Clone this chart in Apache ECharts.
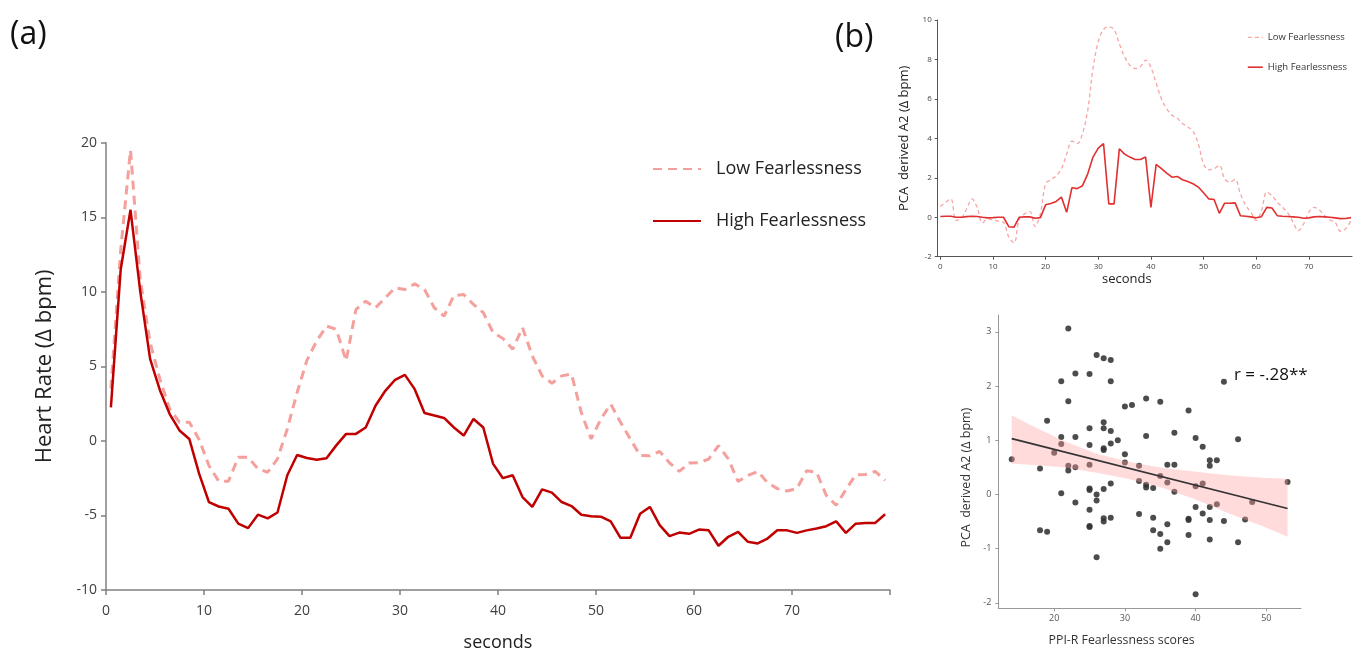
<!DOCTYPE html>
<html><head><meta charset="utf-8">
<script src="https://cdn.jsdelivr.net/npm/echarts@6/dist/echarts.min.js"></script>
<style>html,body{margin:0;padding:0;background:#fff}#c{width:1358px;height:657px}</style>
</head><body><div id="c"></div>
<script>
// ---- Panel (a): heart rate time course ----
const secondsA = [0.5,1.5,2.5,3.5,4.5,5.5,6.5,7.5,8.5,9.5,10.5,11.5,12.5,13.5,14.5,15.5,16.5,17.5,18.5,19.5,20.5,21.5,22.5,23.5,24.5,25.5,26.5,27.5,28.5,29.5,30.5,31.5,32.5,33.5,34.5,35.5,36.5,37.5,38.5,39.5,40.5,41.5,42.5,43.5,44.5,45.5,46.5,47.5,48.5,49.5,50.5,51.5,52.5,53.5,54.5,55.5,56.5,57.5,58.5,59.5,60.5,61.5,62.5,63.5,64.5,65.5,66.5,67.5,68.5,69.5,70.5,71.5,72.5,73.5,74.5,75.5,76.5,77.5,78.5,79.5];
const hrLow = [3.5,12.8,19.5,10.8,6.6,4.14,2.14,1.25,1.25,0.1,
  -1.65,-2.7,-2.7,-1.1,-1.1,-1.87,-2.1,-1.2,0.8,3.25,
  5.4,6.7,7.7,7.48,5.37,8.8,9.37,8.93,9.6,10.27,
  10.15,10.53,10.15,8.93,8.37,9.75,9.82,9.15,8.6,7.26,
  6.87,6.15,7.6,5.7,4.36,3.87,4.36,4.48,1.9,0.13,
  1.47,2.47,1.25,0.13,-0.98,-1.0,-0.71,-1.47,-2.05,-1.49,
  -1.46,-1.22,-0.31,-1.2,-2.72,-2.32,-2.05,-2.8,-3.2,-3.36,
  -3.2,-2.0,-2.1,-3.65,-4.32,-3.27,-2.27,-2.25,-2.05,-2.65];
const hrHigh = [2.25,11.5,15.5,10.0,5.5,3.4,1.8,0.7,0.13,-2.2,
  -4.1,-4.4,-4.55,-5.55,-5.85,-4.95,-5.2,-4.8,-2.3,-0.95,
  -1.15,-1.27,-1.16,-0.3,0.47,0.47,0.9,2.36,3.36,4.1,
  4.43,3.47,1.87,1.7,1.54,0.9,0.36,1.47,0.9,-1.54,
  -2.5,-2.3,-3.77,-4.43,-3.25,-3.47,-4.1,-4.37,-4.95,-5.05,
  -5.08,-5.4,-6.5,-6.5,-4.88,-4.43,-5.65,-6.39,-6.15,-6.23,
  -5.95,-6.0,-7.03,-6.43,-6.1,-6.77,-6.88,-6.55,-5.99,-6.0,
  -6.17,-6.0,-5.88,-5.72,-5.39,-6.17,-5.55,-5.5,-5.5,-4.92];

// ---- Panel (b) top: PCA derived A2 time course ----
const secondsB = [0,1,2,3,4,5,6,7,8,9,10,11,12,13,14,15,16,17,18,19,20,21,22,23,24,25,26,27,28,29,30,31,32,33,34,35,36,37,38,39,40,41,42,43,44,45,46,47,48,49,50,51,52,53,54,55,56,57,58,59,60,61,62,63,64,65,66,67,68,69,70,71,72,73,74,75,76,77,78];
const pcaLow = [0.54,0.76,0.93,-0.17,-0.03,0.42,0.93,0.5,-0.29,-0.08,
  -0.14,-0.2,-0.25,-1.0,-1.3,-0.08,0.17,0.3,-0.47,0.17,
  1.7,1.9,2.1,2.46,3.2,3.86,3.73,4.24,5.42,7.54,
  8.9,9.53,9.66,9.53,8.8,8.14,7.7,7.54,7.63,7.97,
  7.6,6.8,6.0,5.5,5.17,5.03,4.75,4.58,4.37,3.73,
  2.7,2.4,2.46,2.63,1.95,1.78,1.92,1.19,0.6,0.25,
  -0.17,0.34,1.27,1.1,0.76,0.5,0.22,-0.25,-0.68,-0.34,
  0.25,0.5,0.37,0.08,-0.14,-0.25,-0.71,-0.59,-0.17];
const pcaHigh = [0.04,0.05,0.05,0.0,0.0,0.03,0.05,0.04,0.0,-0.03,
  -0.02,0.0,0.0,-0.48,-0.5,0.0,0.02,0.02,-0.05,-0.02,
  0.63,0.7,0.8,1.02,0.25,1.5,1.45,1.6,2.2,3.05,
  3.5,3.73,0.68,0.68,3.47,3.2,3.05,2.93,2.93,3.05,
  0.5,2.68,2.46,2.24,2.03,2.07,1.9,1.81,1.7,1.53,
  1.24,0.93,0.9,0.2,0.71,0.71,0.73,0.08,0.05,0.02,
  -0.03,0.03,0.5,0.47,0.08,0.05,0.04,0.02,0.0,-0.05,
  -0.03,0.02,0.04,0.02,0.0,-0.03,-0.07,-0.06,-0.02];

// ---- Panel (b) bottom: scatter ----
const ppiScores = [14,18,18,19,19,20,21,21,21,21,22,22,22,22,23,23,23,23,25,25,25,25,25,25,25,25,25,26,26,26,26,27,27,27,27,27,27,27,27,28,28,28,28,28,28,29,30,30,30,31,32,32,32,33,33,33,33,34,34,34,35,35,35,35,36,36,36,36,37,37,37,39,39,39,39,40,40,40,40,41,41,41,42,42,42,42,42,43,43,44,44,46,46,47,48,53];
const pcaA2 = [0.65,0.48,-0.66,1.36,-0.69,0.77,2.09,1.06,0.93,0.02,3.06,1.72,0.53,0.44,2.23,1.06,0.5,-0.15,2.22,1.22,0.91,0.55,0.11,0.08,-0.28,-0.58,-0.6,2.57,0.0,-0.11,-1.16,2.51,1.33,1.22,0.85,0.82,0.1,-0.44,-0.5,2.48,2.09,1.17,0.94,0.2,-0.43,1.0,1.62,0.74,0.59,1.65,0.53,0.25,-0.36,1.77,1.08,0.18,0.13,0.12,-0.43,-0.66,1.71,0.34,-0.73,-1.0,0.55,0.22,-0.55,-0.88,1.14,0.55,0.05,1.55,-0.45,-0.47,-0.75,1.04,0.15,-0.23,-1.84,0.88,0.2,-0.35,0.63,0.53,-0.23,-0.47,-0.83,0.63,-0.18,2.08,-0.49,1.02,-0.88,-0.46,-0.14,0.23];
const fitX = [14, 53];
const fitY = [1.03, -0.26];
const bandX = [14, 16.5, 21.3, 26, 30.7, 35.4, 40.1, 44.9, 49.6, 53];
const bandUpper = [1.46, 1.29, 0.99, 0.75, 0.60, 0.49, 0.42, 0.35, 0.31, 0.29];
const bandLower = [0.57, 0.55, 0.50, 0.40, 0.28, 0.12, -0.10, -0.36, -0.59, -0.78];

// ---- tick labels ----
const ticksBX = [0,10,20,30,40,50,60,70];
const ticksCX = [20,30,40,50];
const ticksCY = [-2,-1,0,1,2,3];

const FONT = '"Open Sans", "Noto Sans", sans-serif';
const zip = (xs, ys) => xs.map((x, i) => [x, ys[i]]);
const hiddenSymbol = { color: 'rgba(0,0,0,0)', borderColor: 'rgba(0,0,0,0)', borderWidth: 0 };

const chart = echarts.init(document.getElementById('c'));
const option = {
  animation: false,
  textStyle: { fontFamily: FONT },
  title: [
    { text: '(a)', left: 10, top: 19, padding: 0, textStyle: { fontFamily: FONT, fontSize: 32, fontWeight: 'normal', color: '#111' } },
    { text: '(b)', left: 835, top: 22, padding: 0, textStyle: { fontFamily: FONT, fontSize: 32, fontWeight: 'normal', color: '#111' } },
    { text: 'r = -.28**', left: 1234, top: 367, padding: 0, textStyle: { fontFamily: FONT, fontSize: 17, fontWeight: 'normal', color: '#111' } }
  ],
  legend: [
    { left: 652, top: 160, padding: 0, orient: 'vertical', itemWidth: 48, itemHeight: 20, itemGap: 34, selectedMode: false,
      itemStyle: hiddenSymbol,
      data: ['Low Fearlessness', 'High Fearlessness'],
      textStyle: { fontFamily: FONT, fontSize: 18, color: '#222', padding: [0, 0, 0, 10] } },
    { left: 1247, top: 31, padding: 0, orient: 'vertical', itemWidth: 15, itemHeight: 16, itemGap: 17, selectedMode: false,
      itemStyle: hiddenSymbol,
      data: [
        { name: 'Low Fearlessness', lineStyle: { color: '#f7a5a5', width: 1.3, type: [4, 3] } },
        { name: 'High Fearlessness', lineStyle: { color: '#e03030', width: 1.6, type: 'solid' } }
      ],
      textStyle: { fontFamily: FONT, fontSize: 9.5, color: '#333' } }
  ],
  grid: [
    { left: 106, top: 142.7, width: 784, height: 449 },
    { left: 937.7, top: 20, width: 414.3, height: 236.7 },
    { left: 998.3, top: 315, width: 302.7, height: 293.3 }
  ],
  xAxis: [
    { gridIndex: 0, type: 'value', min: 0, max: 80, interval: 10,
      axisLine: { show: true, onZero: false, lineStyle: { color: '#808080', width: 1.5 } },
      axisTick: { show: true, length: 5, lineStyle: { color: '#808080', width: 1.5 } },
      splitLine: { show: false },
      axisLabel: { fontSize: 14, color: '#404040', margin: 14, formatter: v => (v === 80 ? '' : String(v)) },
      name: 'seconds', nameLocation: 'middle', nameGap: 44,
      nameTextStyle: { fontSize: 18, color: '#222', fontFamily: FONT } },
    { gridIndex: 1, type: 'value', min: -0.5, max: 78.2,
      axisLine: { show: true, onZero: false, lineStyle: { color: '#555', width: 1 } },
      axisTick: { show: true, length: 3, customValues: ticksBX, lineStyle: { color: '#555' } },
      axisLabel: { fontSize: 8, color: '#444', margin: 6, customValues: ticksBX },
      splitLine: { show: false },
      name: 'seconds', nameLocation: 'middle', nameGap: 16,
      nameTextStyle: { fontSize: 13, color: '#222', fontFamily: FONT, padding: [0, 36, 0, 0] } },
    { gridIndex: 2, type: 'value', min: 12.1, max: 54.9,
      axisLine: { show: true, onZero: false, lineStyle: { color: '#999', width: 1 } },
      axisTick: { show: true, length: 3, customValues: ticksCX, lineStyle: { color: '#999' } },
      axisLabel: { fontSize: 9, color: '#555', margin: 6, customValues: ticksCX },
      splitLine: { show: false },
      name: 'PPI-R Fearlessness scores', nameLocation: 'middle', nameGap: 26,
      nameTextStyle: { fontSize: 12.3, color: '#333', fontFamily: FONT, padding: [0, 56, 0, 0] } }
  ],
  yAxis: [
    { gridIndex: 0, type: 'value', min: -10, max: 20, interval: 5,
      axisLine: { show: true, onZero: false, lineStyle: { color: '#808080', width: 1.5 } },
      axisTick: { show: true, length: 5, lineStyle: { color: '#808080', width: 1.5 } },
      splitLine: { show: false },
      axisLabel: { fontSize: 14, color: '#404040', margin: 9 },
      name: 'Heart Rate (Δ bpm)', nameLocation: 'middle', nameGap: 50,
      nameTextStyle: { fontSize: 22, color: '#222', fontFamily: FONT } },
    { gridIndex: 1, type: 'value', min: -2, max: 10, interval: 2,
      axisLine: { show: true, onZero: false, lineStyle: { color: '#555', width: 1 } },
      axisTick: { show: true, length: 3, lineStyle: { color: '#555' } },
      splitLine: { show: false },
      axisLabel: { fontSize: 8, color: '#444', margin: 6 },
      name: 'PCA  derived A2 (Δ bpm)', nameLocation: 'middle', nameGap: 27,
      nameTextStyle: { fontSize: 13, color: '#222', fontFamily: FONT } },
    { gridIndex: 2, type: 'value', min: -2.1, max: 3.31,
      axisLine: { show: true, onZero: false, lineStyle: { color: '#999', width: 1 } },
      axisTick: { show: true, length: 3, customValues: ticksCY, lineStyle: { color: '#999' } },
      axisLabel: { fontSize: 9, color: '#555', margin: 7, customValues: ticksCY },
      splitLine: { show: false },
      name: 'PCA  derived A2 (Δ bpm)', nameLocation: 'middle', nameGap: 25,
      nameTextStyle: { fontSize: 12.5, color: '#333', fontFamily: FONT, padding: [0, 32, 0, 0] } }
  ],
  series: [
    { name: 'Low Fearlessness', type: 'line', xAxisIndex: 0, yAxisIndex: 0, data: zip(secondsA, hrLow),
      symbol: 'none', z: 2, lineStyle: { color: '#f4a09c', width: 3, type: [9, 6] }, itemStyle: { color: '#f4a09c' } },
    { name: 'High Fearlessness', type: 'line', xAxisIndex: 0, yAxisIndex: 0, data: zip(secondsA, hrHigh),
      symbol: 'none', z: 3, lineStyle: { color: '#c00000', width: 2.5 }, itemStyle: { color: '#c00000' } },
    { name: 'Low Fearlessness', type: 'line', xAxisIndex: 1, yAxisIndex: 1, data: zip(secondsB, pcaLow),
      symbol: 'none', smooth: 0.35, z: 2, lineStyle: { color: '#f7a5a5', width: 1.3, type: [4, 3] }, itemStyle: { color: '#f7a5a5' } },
    { name: 'High Fearlessness', type: 'line', xAxisIndex: 1, yAxisIndex: 1, data: zip(secondsB, pcaHigh),
      symbol: 'none', z: 3, lineStyle: { color: '#e03030', width: 1.6 }, itemStyle: { color: '#e03030' } },
    { name: 'scores', type: 'scatter', xAxisIndex: 2, yAxisIndex: 2, data: zip(ppiScores, pcaA2),
      symbolSize: 6, z: 2, itemStyle: { color: '#333', opacity: 0.88 } },
    { name: 'ci-band', type: 'custom', xAxisIndex: 2, yAxisIndex: 2, z: 3, silent: true,
      data: bandX.map((x, i) => [x, bandLower[i], bandUpper[i]]),
      encode: { x: 0, y: [1, 2] },
      renderItem: (params, api) => {
        if (params.dataIndex !== 0) return null;
        const top = bandX.map((x, i) => api.coord([x, bandUpper[i]]));
        const bottom = bandX.map((x, i) => api.coord([x, bandLower[i]])).reverse();
        return { type: 'polygon', shape: { points: top.concat(bottom) },
                 style: { fill: 'rgba(255,160,160,0.38)', stroke: null } };
      } },
    { name: 'fit', type: 'line', xAxisIndex: 2, yAxisIndex: 2, data: zip(fitX, fitY),
      symbol: 'none', z: 4, silent: true, lineStyle: { color: '#333', width: 1.6 } }
  ]
};
chart.setOption(option);
</script>
</body></html>
